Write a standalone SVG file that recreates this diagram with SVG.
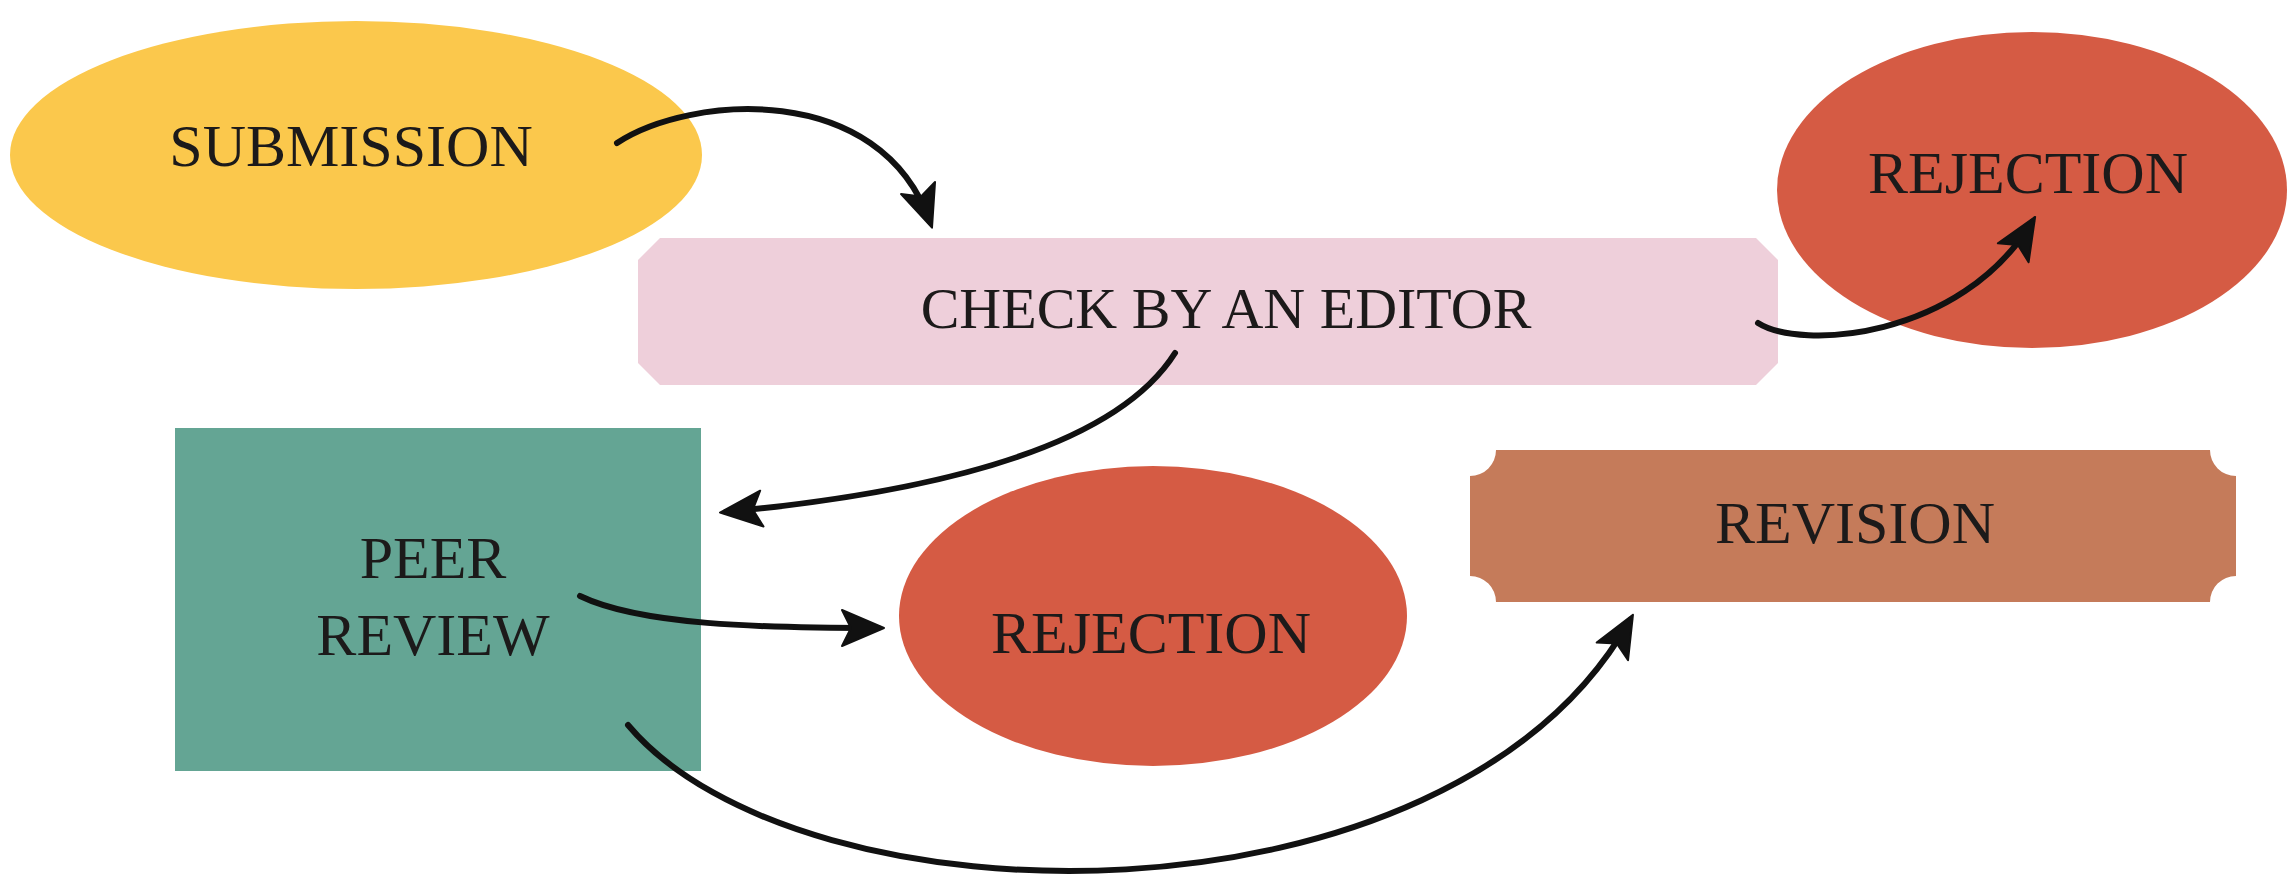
<svg xmlns="http://www.w3.org/2000/svg" width="2291" height="879" viewBox="0 0 2291 879">
<style>
.lbl{font-family:"Liberation Serif","Times New Roman",serif;font-size:60px;fill:#1c1a1a;text-anchor:middle}
.con{fill:none;stroke:#111;stroke-width:6;stroke-linecap:round}
</style>
<defs>
<marker id="ah" markerUnits="userSpaceOnUse" markerWidth="60" markerHeight="50" viewBox="-50 -25 60 50" refX="0" refY="0" orient="auto">
<path d="M6,0 L-36,-18 L-27,0 L-36,18 Z" fill="#111" stroke="#111" stroke-width="2" stroke-linejoin="round"/>
</marker>
</defs>
<rect width="2291" height="879" fill="#fff"/>
<g id="submission">
<ellipse cx="356" cy="155" rx="346" ry="134" fill="#FBC84C"/>
<text class="lbl" x="351" y="166">SUBMISSION</text>
</g>
<g id="check">
<path d="M660,238 H1756 L1778,260 V363 L1756,385 H660 L638,363 V260 Z" fill="#EECFDA"/>
<text class="lbl" x="1226" y="328" style="font-size:58px">CHECK BY AN EDITOR</text>
</g>
<g id="rejection1">
<ellipse cx="2032" cy="190" rx="255" ry="158" fill="#D55B44"/>
<text class="lbl" x="2028" y="193">REJECTION</text>
</g>
<g id="peer">
<rect x="175" y="428" width="526" height="343" fill="#64A594"/>
<text class="lbl" x="433" y="578">PEER</text>
<text class="lbl" x="433" y="655">REVIEW</text>
</g>
<g id="rejection2">
<ellipse cx="1153" cy="616" rx="254" ry="150" fill="#D55B44"/>
<text class="lbl" x="1151" y="653">REJECTION</text>
</g>
<g id="revision">
<path d="M1496,450 H2210 A26,26 0 0 0 2236,476 V576 A26,26 0 0 0 2210,602 H1496 A26,26 0 0 0 1470,576 V476 A26,26 0 0 0 1496,450 Z" fill="#C57B5A"/>
<text class="lbl" x="1855" y="543">REVISION</text>
</g>
<g id="connectors">
<path class="con" d="M617,143 C690,95 880,80 930,222" marker-end="url(#ah)"/>
<path class="con" d="M1758,323 C1800,350 1960,340 2032,222" marker-end="url(#ah)"/>
<path class="con" d="M1175,353 C1120,440 960,490 726,512" marker-end="url(#ah)"/>
<path class="con" d="M580,596 C640,625 760,628 878,628" marker-end="url(#ah)"/>
<path class="con" d="M628,725 C800,930 1450,940 1630,620" marker-end="url(#ah)"/>
</g>
</svg>
